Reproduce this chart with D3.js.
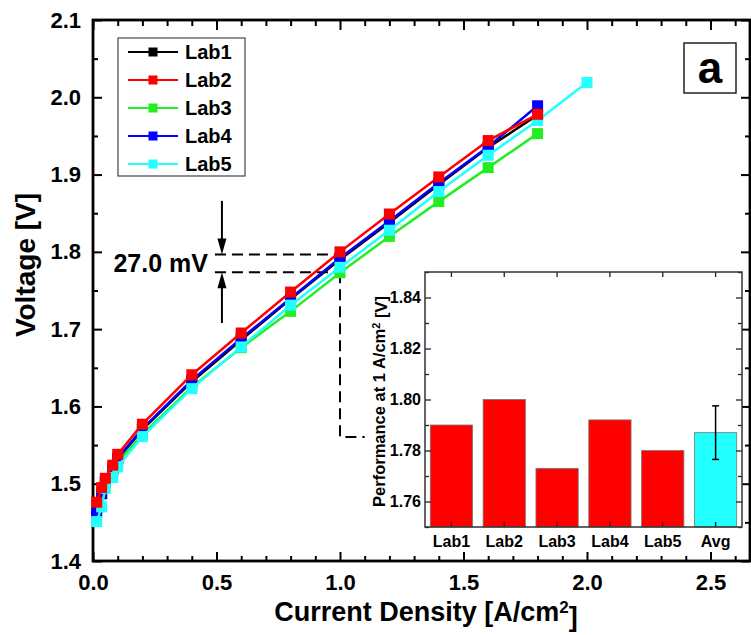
<!DOCTYPE html>
<html>
<head>
<meta charset="utf-8">
<script src="https://cdn.jsdelivr.net/npm/d3@7/dist/d3.min.js"></script>
<style>
  html, body { margin: 0; padding: 0; background: #fff; }
  svg { display: block; }
  text { font-family: "Liberation Sans", Arial, sans-serif; font-weight: bold; fill: #000; }
</style>
</head>
<body>
<svg id="chart" width="751" height="635"></svg>
<script>
// ---------- data ----------
const currentDensity = [0.015, 0.035, 0.05, 0.08, 0.1, 0.2, 0.4, 0.6, 0.8, 1.0, 1.2, 1.4, 1.6, 1.8];
const currentDensityLab5 = [0.015, 0.035, 0.05, 0.08, 0.1, 0.2, 0.4, 0.6, 0.8, 1.0, 1.2, 1.4, 1.6, 1.8, 2.0];
const lab1 = [1.468, 1.487, 1.502, 1.519, 1.532, 1.570, 1.632, 1.686, 1.739, 1.790, 1.838, 1.887, 1.935, 1.977];
const lab2 = [1.476, 1.495, 1.507, 1.524, 1.538, 1.577, 1.641, 1.695, 1.748, 1.800, 1.849, 1.897, 1.944, 1.978];
const lab3 = [1.472, 1.489, 1.500, 1.515, 1.528, 1.564, 1.625, 1.676, 1.723, 1.773, 1.820, 1.865, 1.909, 1.953];
const lab4 = [1.463, 1.488, 1.503, 1.520, 1.533, 1.571, 1.634, 1.688, 1.740, 1.792, 1.840, 1.889, 1.936, 1.989];
const lab5 = [1.451, 1.470, 1.494, 1.508, 1.522, 1.561, 1.623, 1.677, 1.731, 1.780, 1.828, 1.878, 1.925, 1.970, 2.019];
const seriesNames = ["Lab1", "Lab2", "Lab3", "Lab4", "Lab5"];
const seriesColors = ["#000000", "#ff0000", "#22ee22", "#0000ff", "#22ffff"];
const drawOrder = [0, 2, 3, 4, 1];

const xMajorTicks = [0, 0.5, 1.0, 1.5, 2.0, 2.5];
const yMajorTicks = [1.4, 1.5, 1.6, 1.7, 1.8, 1.9, 2.0, 2.1];

const barCategories = ["Lab1", "Lab2", "Lab3", "Lab4", "Lab5", "Avg"];
const barValues = [1.790, 1.800, 1.773, 1.792, 1.780, 1.787];
const barColors = ["#ff0000", "#ff0000", "#ff0000", "#ff0000", "#ff0000", "#22ffff"];
const avgError = 0.0105;
const insetMajorTicks = [1.76, 1.78, 1.80, 1.82, 1.84];

const annotHigh = 1.7965, annotLow = 1.7735, annotX = 0.522, annotAt = 1.0;
const annotLabel = "27.0 mV";

// ---------- layout ----------
const svg = d3.select("#chart");
const W = 751, H = 635;
const M = { left: 93, right: 750, top: 20, bottom: 561 };
const x = d3.scaleLinear([0, 2.66], [M.left, M.right]);
const y = d3.scaleLinear([1.4, 2.1], [M.bottom, M.top]);

svg.append("rect").attr("width", W).attr("height", H).attr("fill", "#fff");

const seriesData = [
  currentDensity.map((c, i) => [c, lab1[i]]),
  currentDensity.map((c, i) => [c, lab2[i]]),
  currentDensity.map((c, i) => [c, lab3[i]]),
  currentDensity.map((c, i) => [c, lab4[i]]),
  currentDensityLab5.map((c, i) => [c, lab5[i]])
];

// ---------- axes ----------
function range(a, b, s) { const r = []; for (let v = a; v <= b + 1e-9; v += s) r.push(+v.toFixed(3)); return r; }
const xMinor = range(0, 2.6, 0.1).filter(v => !xMajorTicks.some(t => Math.abs(t - v) < 1e-6));
const yMinor = range(1.4, 2.1, 0.05).filter(v => !yMajorTicks.some(t => Math.abs(t - v) < 1e-6));

function styleAxis(g, fs) {
  g.select(".domain").remove();
  g.selectAll("line").attr("stroke", "#000").attr("stroke-width", 2);
  g.selectAll("text").attr("font-size", fs).attr("font-family", null).style("font-weight", "bold");
}
// bottom
svg.append("g").attr("transform", `translate(0,${M.bottom})`)
  .call(d3.axisBottom(x).tickValues(xMajorTicks).tickSize(-9).tickPadding(13).tickFormat(d3.format(".1f")))
  .call(g => styleAxis(g, 22));
svg.append("g").attr("transform", `translate(0,${M.bottom})`)
  .call(d3.axisBottom(x).tickValues(xMinor).tickSize(-5).tickFormat(""))
  .call(g => styleAxis(g, 0));
// top
svg.append("g").attr("transform", `translate(0,${M.top})`)
  .call(d3.axisTop(x).tickValues(xMajorTicks).tickSize(-10).tickFormat(""))
  .call(g => styleAxis(g, 0));
svg.append("g").attr("transform", `translate(0,${M.top})`)
  .call(d3.axisTop(x).tickValues(xMinor).tickSize(-6).tickFormat(""))
  .call(g => styleAxis(g, 0));
// left
svg.append("g").attr("transform", `translate(${M.left},0)`)
  .call(d3.axisLeft(y).tickValues(yMajorTicks).tickSize(-9).tickPadding(12).tickFormat(d3.format(".1f")))
  .call(g => styleAxis(g, 22));
svg.append("g").attr("transform", `translate(${M.left},0)`)
  .call(d3.axisLeft(y).tickValues(yMinor).tickSize(-5).tickFormat(""))
  .call(g => styleAxis(g, 0));
// right
svg.append("g").attr("transform", `translate(${M.right},0)`)
  .call(d3.axisRight(y).tickValues(yMajorTicks).tickSize(-9).tickFormat(""))
  .call(g => styleAxis(g, 0));
svg.append("g").attr("transform", `translate(${M.right},0)`)
  .call(d3.axisRight(y).tickValues(yMinor).tickSize(-5).tickFormat(""))
  .call(g => styleAxis(g, 0));

// frame
svg.append("rect").attr("x", M.left).attr("y", M.top)
  .attr("width", M.right - M.left).attr("height", M.bottom - M.top)
  .attr("fill", "none").attr("stroke", "#000").attr("stroke-width", 2.8);

// axis titles
const xt = svg.append("text").attr("x", 426).attr("y", 621)
  .attr("text-anchor", "middle").attr("font-size", 27);
xt.append("tspan").text("Current Density [A/cm");
xt.append("tspan").attr("dy", "-0.45em").attr("font-size", 17).text("2");
xt.append("tspan").attr("dy", "0.45em").text("]");

svg.append("text").attr("transform", `translate(35,265) rotate(-90)`)
  .attr("text-anchor", "middle").attr("font-size", 28).text("Voltage [V]");

// ---------- annotation ----------
const dash = "11,6";
svg.append("line").attr("x1", x(annotX) - 7).attr("x2", x(annotAt))
  .attr("y1", y(annotHigh)).attr("y2", y(annotHigh))
  .attr("stroke", "#000").attr("stroke-width", 2).attr("stroke-dasharray", dash);
svg.append("line").attr("x1", x(annotX) - 7).attr("x2", x(annotAt))
  .attr("y1", y(annotLow)).attr("y2", y(annotLow))
  .attr("stroke", "#000").attr("stroke-width", 2).attr("stroke-dasharray", dash);
// vertical dashed down and then toward inset
svg.append("path")
  .attr("d", `M${x(annotAt)},${y(annotLow)} V${y(1.5605)} H${x(1.1)}`)
  .attr("fill", "none").attr("stroke", "#000").attr("stroke-width", 2).attr("stroke-dasharray", dash);
// arrows
const ax = x(annotX);
svg.append("line").attr("x1", ax).attr("x2", ax).attr("y1", y(1.866)).attr("y2", y(annotHigh) - 12)
  .attr("stroke", "#000").attr("stroke-width", 2);
svg.append("path").attr("d", `M${ax - 4.5},${y(annotHigh) - 16} L${ax + 4.5},${y(annotHigh) - 16} L${ax},${y(annotHigh)} Z`).attr("fill", "#000");
svg.append("line").attr("x1", ax).attr("x2", ax).attr("y1", y(annotLow) + 12).attr("y2", y(1.708))
  .attr("stroke", "#000").attr("stroke-width", 2);
svg.append("path").attr("d", `M${ax - 4.5},${y(annotLow) + 16} L${ax + 4.5},${y(annotLow) + 16} L${ax},${y(annotLow)} Z`).attr("fill", "#000");
svg.append("text").attr("x", x(annotX) - 14).attr("y", (y(annotHigh) + y(annotLow)) / 2 + 9)
  .attr("text-anchor", "end").attr("font-size", 25).text(annotLabel);

// ---------- series ----------
const line = d3.line().x(d => x(d[0])).y(d => y(d[1]));
const ms = 11;
drawOrder.forEach(i => {
  const g = svg.append("g");
  g.append("path").datum(seriesData[i]).attr("d", line)
    .attr("fill", "none").attr("stroke", seriesColors[i]).attr("stroke-width", 2.5);
  g.selectAll("rect").data(seriesData[i]).join("rect")
    .attr("x", d => x(d[0]) - ms / 2).attr("y", d => y(d[1]) - ms / 2)
    .attr("width", ms).attr("height", ms).attr("fill", seriesColors[i]);
});

// ---------- legend ----------
const lg = svg.append("g");
lg.append("rect").attr("x", 118).attr("y", 38).attr("width", 127).attr("height", 138)
  .attr("fill", "#fff").attr("stroke", "#444").attr("stroke-width", 1.2);
seriesNames.forEach((n, i) => {
  const yy = 52 + i * 28;
  lg.append("line").attr("x1", 128).attr("x2", 178).attr("y1", yy).attr("y2", yy)
    .attr("stroke", seriesColors[i]).attr("stroke-width", 2.2);
  lg.append("rect").attr("x", 153 - 4.5).attr("y", yy - 4.5).attr("width", 9).attr("height", 9)
    .attr("fill", seriesColors[i]);
  lg.append("text").attr("x", 185).attr("y", yy + 7).attr("font-size", 20).text(n);
});

// ---------- "a" label ----------
svg.append("rect").attr("x", 684).attr("y", 43).attr("width", 52).attr("height", 50)
  .attr("fill", "#fff").attr("stroke", "#222").attr("stroke-width", 1.5);
svg.append("text").attr("x", 710).attr("y", 83).attr("text-anchor", "middle")
  .attr("font-size", 44).text("a");

// ---------- inset ----------
const I = { left: 425, right: 742, top: 272, bottom: 527 };
const xb = d3.scaleBand(barCategories, [I.left, I.right]).paddingInner(0.2).paddingOuter(0.1);
const yb = d3.scaleLinear([1.75, 1.85], [I.bottom, I.top]);
const ins = svg.append("g");
ins.append("rect").attr("x", I.left).attr("y", I.top).attr("width", I.right - I.left)
  .attr("height", I.bottom - I.top).attr("fill", "#fff");
ins.selectAll(".bar").data(barValues).join("rect").attr("class", "bar")
  .attr("x", (d, i) => xb(barCategories[i])).attr("width", xb.bandwidth())
  .attr("y", d => yb(d)).attr("height", d => yb(1.75) - yb(d))
  .attr("fill", (d, i) => barColors[i]).attr("stroke", "#777").attr("stroke-width", 0.8);
// error bar on Avg
const ex = xb("Avg") + xb.bandwidth() / 2;
const avg = barValues[barValues.length - 1];
ins.append("line").attr("x1", ex).attr("x2", ex).attr("y1", yb(avg - avgError)).attr("y2", yb(avg + avgError))
  .attr("stroke", "#000").attr("stroke-width", 1.5);
[avg - avgError, avg + avgError].forEach(v => {
  ins.append("line").attr("x1", ex - 3.5).attr("x2", ex + 3.5).attr("y1", yb(v)).attr("y2", yb(v))
    .attr("stroke", "#000").attr("stroke-width", 1.5);
});

function styleInset(g, fs) {
  g.select(".domain").remove();
  g.selectAll("line").attr("stroke", "#222").attr("stroke-width", 1.3);
  g.selectAll("text").attr("font-size", fs).attr("font-family", null).style("font-weight", "bold");
}
const insetMinor = range(1.75, 1.85, 0.01).filter(v => !insetMajorTicks.some(t => Math.abs(t - v) < 1e-6));
ins.append("g").attr("transform", `translate(${I.left},0)`)
  .call(d3.axisLeft(yb).tickValues(insetMajorTicks).tickSize(-6).tickPadding(4).tickFormat(d3.format(".2f")))
  .call(g => styleInset(g, 16));
ins.append("g").attr("transform", `translate(${I.left},0)`)
  .call(d3.axisLeft(yb).tickValues(insetMinor).tickSize(-4).tickFormat(""))
  .call(g => styleInset(g, 0));
ins.append("g").attr("transform", `translate(${I.right},0)`)
  .call(d3.axisRight(yb).tickValues(insetMajorTicks).tickSize(-6).tickFormat(""))
  .call(g => styleInset(g, 0));
ins.append("g").attr("transform", `translate(${I.right},0)`)
  .call(d3.axisRight(yb).tickValues(insetMinor).tickSize(-4).tickFormat(""))
  .call(g => styleInset(g, 0));
ins.append("g").attr("transform", `translate(0,${I.bottom})`)
  .call(d3.axisBottom(xb).tickSize(-5).tickPadding(9))
  .call(g => styleInset(g, 16));
ins.append("g").attr("transform", `translate(0,${I.top})`)
  .call(d3.axisTop(xb).tickSize(-5).tickFormat(""))
  .call(g => styleInset(g, 0));
ins.append("rect").attr("x", I.left).attr("y", I.top).attr("width", I.right - I.left)
  .attr("height", I.bottom - I.top).attr("fill", "none").attr("stroke", "#333").attr("stroke-width", 1.5);
const it = ins.append("text").attr("transform", `translate(385,${(I.top + I.bottom) / 2 + 2}) rotate(-90)`)
  .attr("text-anchor", "middle").attr("font-size", 16.5);
it.append("tspan").text("Performance at 1 A/cm");
it.append("tspan").attr("dy", "-0.45em").attr("font-size", 11).text("2");
it.append("tspan").attr("dy", "0.45em").text(" [V]");
</script>
</body>
</html>
